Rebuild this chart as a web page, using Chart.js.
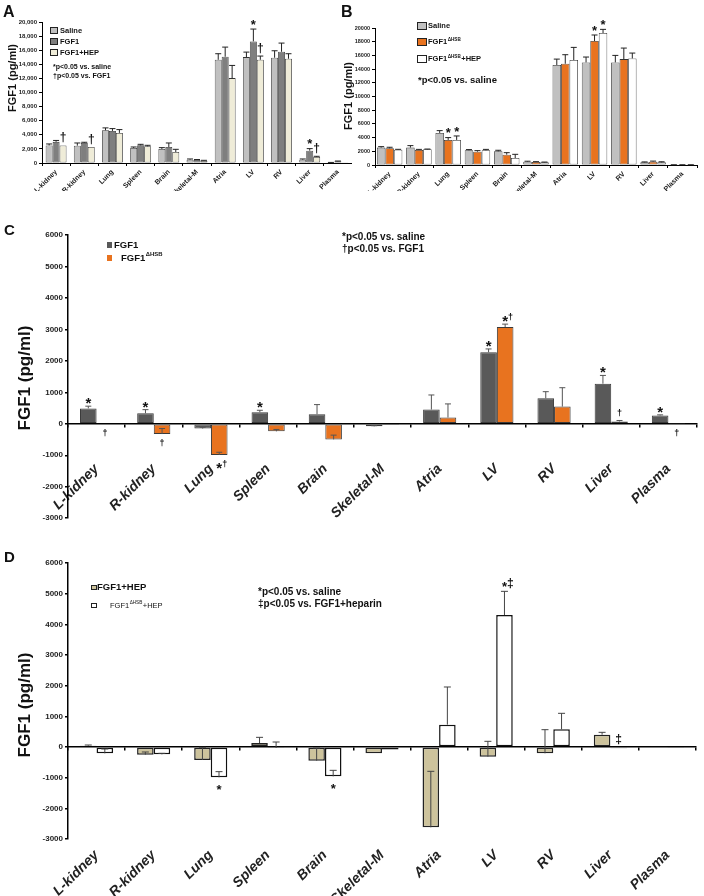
<!DOCTYPE html>
<html>
<head>
<meta charset="utf-8">
<script src="https://cdn.jsdelivr.net/npm/chart.js@4.4.0/dist/chart.umd.min.js"></script>
<style>
  body { margin: 0; background: #fff; width: 704px; height: 896px; position: relative; overflow: hidden; }
  canvas { position: absolute; }
</style>
</head>
<body>
<canvas id="chartA" width="352" height="191" style="left:0;top:0"></canvas>
<canvas id="chartB" width="368" height="191" style="left:336px;top:0"></canvas>
<canvas id="chartC" width="704" height="335" style="left:0;top:190px"></canvas>
<canvas id="chartD" width="704" height="376" style="left:0;top:520px"></canvas>
<script>
const FONT = "'Liberation Sans', Arial, sans-serif";

const tissues = ['L-kidney', 'R-kidney', 'Lung', 'Spleen', 'Brain', 'Skeletal-M', 'Atria', 'LV', 'RV', 'Liver', 'Plasma'];

// A: tissue FGF1 after saline / FGF1 / FGF1+heparin
const aSaline    = [2500, 2460, 4640, 2130, 1990, 470, 14640, 15020, 14930, 470, 50];
const aSalineErr = [200, 380, 340, 140, 190, 100, 860, 710, 990, 100, 30];
const aFgf1      = [3000, 2840, 4550, 2510, 2270, 430, 15070, 17250, 15780, 1750, 240];
const aFgf1Err   = [200, 100, 330, 140, 570, 60, 1370, 1750, 1230, 290, 40];
const aHep       = [2500, 2270, 4270, 2370, 1560, 330, 12040, 14640, 14790, 850, 20];
const aHepErr    = [0, 0, 470, 140, 380, 50, 1800, 530, 710, 100, 0];
const aFgf1Marks = ['', '', '', '', '', '', '', '*', '', '*', ''];
const aHepMarks  = ['\u2020', '\u2020', '', '', '', '', '', '\u2020', '', '\u2020', ''];

// B: saline / FGF1ΔHSB / FGF1ΔHSB+heparin
const bSaline    = [2540, 2540, 4680, 2150, 2000, 490, 14590, 14980, 14980, 390, 30];
const bSalineErr = [140, 290, 340, 100, 150, 60, 870, 780, 1020, 60, 10];
const bHsb       = [2440, 2200, 3660, 1950, 1510, 440, 14780, 18100, 15460, 490, 30];
const bHsbErr    = [150, 80, 340, 150, 290, 50, 1320, 880, 1610, 80, 10];
const bHsbHep    = [2240, 2290, 3660, 2150, 1020, 390, 15320, 19270, 15560, 390, 30];
const bHsbHepErr = [50, 40, 580, 130, 540, 40, 1850, 530, 780, 80, 10];
const bHsbMarks    = ['', '', '*', '', '', '', '', '*', '', '', ''];
const bHsbHepMarks = ['', '', '*', '', '', '', '', '*', '', '', ''];

// C: difference vs saline
const cFgf1    = [490, 337, -150, 368, 305, -80, 453, 2274, 810, 1274, 263];
const cFgf1Err = [70, 113, 40, 62, 305, 20, 463, 105, 211, 263, 21];
const cHsb     = [-25, -326, -990, -240, -495, -40, 200, 3074, 547, 74, 10];
const cHsbErr  = [0, 176, 85, 60, 135, 0, 432, 94, 600, 31, 0];
const cFgf1Up  = ['*', '*', '', '*', '', '', '', '*', '', '*', '*'];
const cHsbUp   = ['', '', '', '', '', '', '', '*\u2020', '', '\u2020', ''];
const cHsbDown = ['\u2020', '\u2020', '*\u2020', '', '', '', '', '', '', '', '\u2020'];

// D: heparin groups, difference vs saline
const dHep       = [43, -250, -424, 130, -446, -207, -2620, -315, -206, 402, 33];
const dHepErr    = [22, 87, 414, 185, 413, 0, 1827, 500, 771, 76, 0];
const dHsbHep    = [-207, -240, -989, -33, -957, -80, 728, 4304, 576, -43, -30];
const dHsbHepErr = [142, 33, 185, 196, 196, 0, 1229, 772, 522, 0, 0];
const dHsbHepUp   = ['', '', '', '', '', '', '', '*\u2021', '', '\u2021', ''];
const dHsbHepDown = ['', '', '*', '', '*', '', '', '', '', '', ''];

// ---------- drawing helpers
function drawRich(ctx, text, x, y, f) {
  const parts = text.split('\u0394HSB');
  const main = `${f.weight} ${f.size}px ${FONT}`;
  const sup = `${f.weight} ${f.size * 0.62}px ${FONT}`;
  ctx.textAlign = 'left';
  ctx.textBaseline = 'middle';
  ctx.font = main;
  ctx.fillText(parts[0], x, y);
  x += ctx.measureText(parts[0]).width;
  if (parts.length > 1) {
    ctx.font = sup;
    ctx.fillText('\u0394HSB', x + 0.5, y - f.size * 0.35);
    x += ctx.measureText('\u0394HSB').width + 1;
    ctx.font = main;
    ctx.fillText(parts[1], x, y);
  }
}

function drawMark(ctx, str, x, cy, sizes) {
  const chars = Array.from(str);
  const widths = chars.map(c => { ctx.font = `bold ${sizes[c]}px ${FONT}`; return ctx.measureText(c).width; });
  let cx = x - widths[0] / 2;
  ctx.textAlign = 'left';
  ctx.textBaseline = 'alphabetic';
  chars.forEach((c, k) => {
    ctx.font = `bold ${sizes[c]}px ${FONT}`;
    const lift = c === '*' ? 0.6 : 0.3;
    ctx.fillText(c, cx, cy + lift * sizes[c]);
    cx += widths[k];
  });
}

const decor = {
  id: 'decor',
  afterDatasetsDraw(chart, args, o) {
    const ctx = chart.ctx, y = chart.scales.y;
    ctx.save();
    ctx.fillStyle = '#111';
    chart.data.datasets.forEach((ds, di) => {
      chart.getDatasetMeta(di).data.forEach((bar, i) => {
        const v = ds.data[i], e = ds.errors[i];
        if (e > 0) {
          const y0 = y.getPixelForValue(v), y1 = y.getPixelForValue(v + e);
          ctx.strokeStyle = o.errColor;
          ctx.lineWidth = o.errWidth;
          ctx.beginPath();
          ctx.moveTo(bar.x, y0); ctx.lineTo(bar.x, y1);
          ctx.moveTo(bar.x - o.cap, y1); ctx.lineTo(bar.x + o.cap, y1);
          ctx.stroke();
        }
        const up = ds.marksUp && ds.marksUp[i];
        if (up) {
          const top = Math.min(y.getPixelForValue(v), y.getPixelForValue(v + e), y.getPixelForValue(0));
          drawMark(ctx, up, bar.x, top - o.gapUp, o.markSizes);
        }
        const dn = ds.marksDown && ds.marksDown[i];
        if (dn) {
          const bot = Math.max(y.getPixelForValue(v), y.getPixelForValue(0));
          drawMark(ctx, dn, bar.x, bot + o.gapDown, o.markSizes);
        }
      });
    });
    ctx.restore();
  },
  afterDraw(chart, args, o) {
    const ctx = chart.ctx;
    const ox = chart.canvas.offsetLeft, oy = chart.canvas.offsetTop;
    ctx.save();
    ctx.fillStyle = '#111';
    // panel letter
    ctx.font = `bold ${o.letter.size}px ${FONT}`;
    ctx.textAlign = 'left';
    ctx.textBaseline = 'alphabetic';
    ctx.fillText(o.letter.text, o.letter.x - ox, o.letter.y - oy);
    // y title
    ctx.save();
    ctx.translate(o.yTitle.x - ox, o.yTitle.y - oy);
    ctx.rotate(-Math.PI / 2);
    ctx.font = `${o.yTitle.weight} ${o.yTitle.size}px ${FONT}`;
    ctx.textAlign = 'center';
    ctx.textBaseline = 'middle';
    ctx.fillText('FGF1 (pg/ml)', 0, 0);
    ctx.restore();
    // legend
    const lg = o.legend;
    chart.data.datasets.forEach((ds, i) => {
      const bx = lg.x - ox, by = lg.ys[i] - oy;
      ctx.fillStyle = ds.backgroundColor;
      ctx.fillRect(bx, by, lg.box[0], lg.box[1]);
      if (lg.border) {
        ctx.strokeStyle = lg.border;
        ctx.lineWidth = 1;
        ctx.strokeRect(bx + 0.5, by + 0.5, lg.box[0] - 1, lg.box[1] - 1);
      }
      ctx.fillStyle = '#111';
      drawRich(ctx, ds.label, bx + lg.dx[i], by + lg.box[1] / 2, lg.fonts[i]);
    });
    // p-value notes
    o.notes.forEach(n => {
      ctx.font = `bold ${n.size}px ${FONT}`;
      ctx.textAlign = 'left';
      ctx.textBaseline = 'middle';
      ctx.fillText(n.text, n.x - ox, n.y - oy);
    });
    ctx.restore();
  }
};

function yAxis(max, step, size, width, comma, borderW) {
  return {
    min: max === 20000 ? 0 : -3000,
    max: max,
    ticks: {
      stepSize: step, color: '#222', padding: 2,
      font: { family: FONT, size: size, weight: 'bold' },
      callback: v => comma ? v.toLocaleString('en-US') : String(v)
    },
    grid: { drawOnChartArea: false, drawTicks: true, tickLength: 3, color: '#000', lineWidth: borderW },
    border: { display: true, color: '#000', width: borderW },
    afterFit: s => { s.width = width; }
  };
}

function xAxis(position, size, style, pad, height, borderW) {
  return {
    position: position,
    offset: true,
    ticks: {
      autoSkip: false, minRotation: 45, maxRotation: 45, padding: pad, color: '#222',
      font: { family: FONT, size: size, weight: 'bold', style: style }
    },
    grid: { drawOnChartArea: false, drawTicks: true, tickLength: 3, color: '#000', offset: true, lineWidth: borderW },
    border: { display: true, color: '#000', width: borderW },
    // rotated labels should not push the plot area in
    afterFit: s => {
      s.paddingLeft = 0;
      s.paddingRight = 0;
      if (height) s.height = height;
    }
  };
}

function bars(label, data, errors, color, border, bw, catPct, up, down) {
  return {
    label: label, data: data, errors: errors, marksUp: up, marksDown: down,
    backgroundColor: color, borderColor: border, borderWidth: bw, borderSkipped: false,
    barPercentage: 1, categoryPercentage: catPct
  };
}

function makeChart(id, datasets, scales, padding, decorOpts) {
  return new Chart(document.getElementById(id), {
    type: 'bar',
    data: { labels: tissues, datasets: datasets },
    options: {
      responsive: false,
      animation: false,
      devicePixelRatio: 1,
      layout: { padding: padding },
      scales: scales,
      plugins: { legend: { display: false }, tooltip: { enabled: false }, decor: decorOpts }
    },
    plugins: [decor]
  });
}

// ---------- A
makeChart('chartA', [
  bars('Saline', aSaline, aSalineErr, '#c0c0c0', '#333', 0.8, 0.74),
  bars('FGF1', aFgf1, aFgf1Err, '#7f7f7f', '#333', 0.8, 0.74, aFgf1Marks),
  bars('FGF1+HEP', aHep, aHepErr, '#efecd8', '#333', 0.8, 0.74, aHepMarks)
], {
  x: xAxis('bottom', 7, 'normal', 2, 28, 1),
  y: yAxis(20000, 2000, 6, 42, true, 1)
}, { left: 0, top: 22, right: 0, bottom: 0 }, {
  errColor: '#222', errWidth: 1, cap: 3, gapUp: 8, gapDown: 8, markSizes: { '*': 13, '\u2020': 12 },
  letter: { text: 'A', x: 3, y: 17, size: 16 },
  yTitle: { x: 13, y: 78, size: 11, weight: 'bold' },
  legend: { x: 50, ys: [27, 38, 49], box: [8, 7], dx: [10, 10, 10], border: '#222',
    fonts: [{ size: 7.5, weight: 'bold' }, { size: 7.5, weight: 'bold' }, { size: 7.5, weight: 'bold' }] },
  notes: [
    { text: '*p<0.05 vs. saline', x: 53, y: 67, size: 7 },
    { text: '\u2020p<0.05 vs. FGF1', x: 53, y: 76, size: 7 }
  ]
});

// ---------- B
makeChart('chartB', [
  bars('Saline', bSaline, bSalineErr, '#c0c0c0', '#333', 0.8, 0.87),
  bars('FGF1\u0394HSB', bHsb, bHsbErr, '#e8731f', '#333', 0.8, 0.87, bHsbMarks),
  bars('FGF1\u0394HSB+HEP', bHsbHep, bHsbHepErr, '#ffffff', '#333', 0.8, 0.87, bHsbHepMarks)
], {
  x: xAxis('bottom', 7, 'normal', 2, 26, 1),
  y: yAxis(20000, 2000, 5.5, 39, false, 1)
}, { left: 0, top: 28, right: 7, bottom: 0 }, {
  errColor: '#222', errWidth: 1, cap: 3, gapUp: 8, gapDown: 8, markSizes: { '*': 13 },
  letter: { text: 'B', x: 341, y: 17, size: 16 },
  yTitle: { x: 349, y: 96, size: 11, weight: 'bold' },
  legend: { x: 417, ys: [22, 38, 55], box: [10, 8], dx: [11, 11, 11], border: '#222',
    fonts: [{ size: 7.5, weight: 'bold' }, { size: 7.5, weight: 'bold' }, { size: 7.5, weight: 'bold' }] },
  notes: [{ text: '*p<0.05 vs. saline', x: 418, y: 80, size: 9.5 }]
});

// ---------- C
makeChart('chartC', [
  bars('FGF1', cFgf1, cFgf1Err, '#595959', '#3a3a3a', 1, 0.58, cFgf1Up),
  bars('FGF1\u0394HSB', cHsb, cHsbErr, '#e8731f', '#3a3a3a', 1, 0.58, cHsbUp, cHsbDown)
], {
  x: xAxis({ y: 0 }, 14, 'italic', 34, 0, 1.5),
  y: yAxis(6000, 1000, 8, 68, false, 1.5)
}, { left: 0, top: 45, right: 7, bottom: 6.5 }, {
  errColor: '#555', errWidth: 1, cap: 3, gapUp: 7, gapDown: 9, markSizes: { '*': 15, '\u2020': 9 },
  letter: { text: 'C', x: 4, y: 235, size: 15 },
  yTitle: { x: 25, y: 378, size: 17, weight: 'bold' },
  legend: { x: 107, ys: [242, 255], box: [5, 6], dx: [7, 14], border: null,
    fonts: [{ size: 9.5, weight: 'bold' }, { size: 9.5, weight: 'bold' }] },
  notes: [
    { text: '*p<0.05 vs. saline', x: 342, y: 237, size: 10 },
    { text: '\u2020p<0.05 vs. FGF1', x: 342, y: 249.5, size: 10 }
  ]
});

// ---------- D
makeChart('chartD', [
  bars('FGF1+HEP', dHep, dHepErr, '#cdc39c', '#222', 1.5, 0.58),
  bars('FGF1\u0394HSB+HEP', dHsbHep, dHsbHepErr, '#ffffff', '#111', 1.5, 0.58, dHsbHepUp, dHsbHepDown)
], {
  x: xAxis({ y: 0 }, 14, 'italic', 97, 0, 1.5),
  y: yAxis(6000, 1000, 8, 68, false, 1.5)
}, { left: 0, top: 43, right: 8, bottom: 57 }, {
  errColor: '#444', errWidth: 1, cap: 3.5, gapUp: 8, gapDown: 9, markSizes: { '*': 13, '\u2021': 12 },
  letter: { text: 'D', x: 4, y: 562, size: 15 },
  yTitle: { x: 25, y: 705, size: 17, weight: 'bold' },
  legend: { x: 91, ys: [585, 603], box: [6, 5], dx: [6, 19], border: '#222',
    fonts: [{ size: 9.5, weight: 'bold' }, { size: 7.5, weight: 'normal' }] },
  notes: [
    { text: '*p<0.05 vs. saline', x: 258, y: 592, size: 10 },
    { text: '\u2021p<0.05 vs. FGF1+heparin', x: 258, y: 604, size: 10 }
  ]
});
</script>
</body>
</html>
